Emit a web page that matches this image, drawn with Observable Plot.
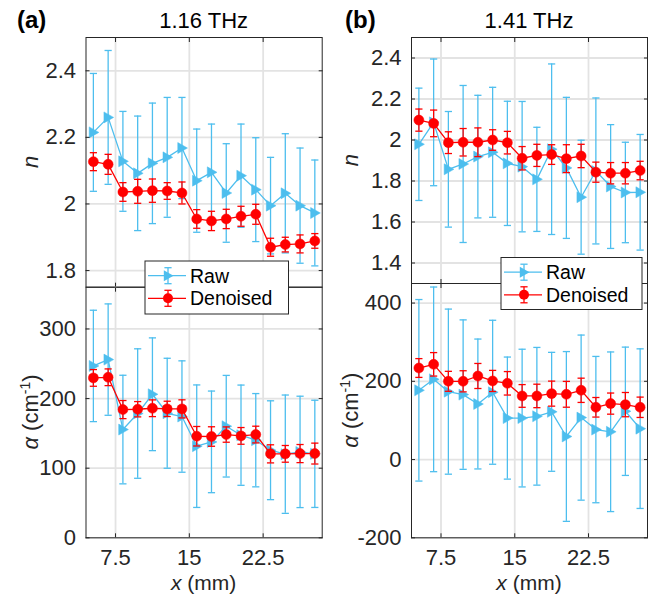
<!DOCTYPE html>
<html><head><meta charset="utf-8">
<script src="https://cdn.jsdelivr.net/npm/d3@7"></script>
<script src="https://cdn.jsdelivr.net/npm/@observablehq/plot@0.6"></script>
<style>
body{margin:0;background:#fff;}
#fig{position:relative;width:652px;height:596px;font-family:"Liberation Sans",Arial,Helvetica,sans-serif;}
#fig svg{position:absolute;left:0;top:0;}
</style></head><body><div id="fig"></div>
<script>
// ---------- data ----------
const xPos = [5.25, 6.75, 8.25, 9.75, 11.25, 12.75, 14.25, 15.75, 17.25, 18.75, 20.25, 21.75, 23.25, 24.75, 26.25, 27.75];
const xTicks = [7.5, 15, 22.5];
const xDomain = [4.5, 28.5];

// (a) 1.16 THz
const nRawA    = [2.215, 2.260, 2.128, 2.092, 2.122, 2.140, 2.168, 2.070, 2.095, 2.033, 2.085, 2.043, 1.995, 2.032, 1.995, 1.973];
const nRawErrA = [0.177, 0.201, 0.150, 0.172, 0.181, 0.180, 0.152, 0.155, 0.145, 0.148, 0.155, 0.156, 0.145, 0.179, 0.173, 0.159];
const nDenA    = [2.127, 2.119, 2.036, 2.038, 2.040, 2.039, 2.033, 1.955, 1.949, 1.955, 1.963, 1.969, 1.870, 1.878, 1.880, 1.889];
const nDenErrA = [0.027, 0.030, 0.028, 0.036, 0.035, 0.025, 0.033, 0.028, 0.029, 0.029, 0.030, 0.030, 0.027, 0.022, 0.027, 0.022];
const aRawA    = [246.9, 256.0, 155.5, 178.5, 206.2, 178.9, 174.2, 131.6, 137.8, 160.3, 147.4, 140.2, 125.8, 120.1, 123.4, 120.6];
const aRawErrA = [80, 80, 78, 93, 81, 79, 80, 88, 73, 73, 72, 67, 71, 85, 80, 77];
const aDenA    = [229.7, 230.6, 184.2, 184.7, 186.1, 185.2, 185.2, 145.9, 145.5, 148.3, 146.4, 148.3, 120.6, 120.6, 121.0, 121.0];
const aDenErrA = [12, 12, 13, 11, 12, 11, 13, 14, 14, 11, 12, 12, 13, 12, 13, 15];

// (b) 1.41 THz
const nRawB    = [1.979, 2.086, 1.857, 1.883, 1.919, 1.940, 1.886, 1.870, 1.808, 1.955, 1.864, 1.721, 1.849, 1.773, 1.744, 1.745];
const nRawErrB = [0.274, 0.309, 0.282, 0.383, 0.299, 0.317, 0.303, 0.318, 0.254, 0.416, 0.344, 0.278, 0.356, 0.302, 0.245, 0.282];
const nDenB    = [2.097, 2.081, 1.987, 1.989, 1.989, 2.000, 1.987, 1.911, 1.925, 1.929, 1.909, 1.922, 1.843, 1.838, 1.838, 1.851];
const nDenErrB = [0.054, 0.065, 0.053, 0.067, 0.070, 0.050, 0.055, 0.057, 0.054, 0.048, 0.068, 0.057, 0.049, 0.052, 0.052, 0.045];
const aRawB    = [177, 205, 173.6, 166, 142, 172, 106, 106, 110.6, 122, 59, 107.2, 76.6, 71, 123.4, 79];
const aRawErrB = [232, 236, 211, 191, 166, 184, 156, 176, 176, 152, 217, 211, 187, 204, 164, 204];
const aDenB    = [234, 243.4, 200, 200, 213.6, 200.9, 194.9, 162.6, 162.6, 168.5, 166.8, 177, 133.6, 143, 140.4, 133.6];
const aDenErrB = [24, 30, 25.5, 27, 32, 27, 30, 29, 30, 32, 33, 31, 25, 27, 31, 26];

const nTicksA = [1.8, 2, 2.2, 2.4];
const aTicksA = [0, 100, 200, 300];
const nTicksB = [1.4, 1.6, 1.8, 2, 2.2, 2.4];
const aTicksB = [-200, 0, 200, 400];
const nDomainA = [1.75, 2.5];
const aDomainA = [0, 360];
const nDomainB = [1.3, 2.5];
const aDomainB = [-200, 450];

const seriesNames = ["Raw", "Denoised"];
const titles = ["1.16 THz", "1.41 THz"];
const panelLetters = ["(a)", "(b)"];

// ---------- style ----------
const W = 652, H = 596;
const FONT = '"Liberation Sans", Arial, Helvetica, sans-serif';
const BLUE = "#4DBEEE", RED = "#FF0000", GRID = "#e3e3e3", AXIS = "#262626";
const fmt = d => String(d);
const blank = () => "";

const capSym = {draw(ctx){ ctx.moveTo(-3.6, 0); ctx.lineTo(3.6, 0); }};
const triRight = {draw(ctx){ ctx.moveTo(5.5, 0); ctx.lineTo(-4.2, -5.5); ctx.lineTo(-4.2, 5.5); ctx.closePath(); }};

function rows(v, e){ return xPos.map((x, i) => ({x, v: v[i], lo: v[i] - e[i], hi: v[i] + e[i]})); }

function series(data, color, sym, r){
  return [
    Plot.ruleX(data, {x: "x", y1: "lo", y2: "hi", stroke: color, strokeWidth: 1.3}),
    Plot.dot(data, {x: "x", y: "lo", symbol: capSym, fill: "none", stroke: color, strokeWidth: 1.3}),
    Plot.dot(data, {x: "x", y: "hi", symbol: capSym, fill: "none", stroke: color, strokeWidth: 1.3}),
    Plot.line(data, {x: "x", y: "v", stroke: color, strokeWidth: 1.3}),
    Plot.dot(data, {x: "x", y: "v", symbol: sym, r, fill: color, stroke: color, strokeWidth: 0.5})
  ];
}

function panel(o){
  const R = rows(o.raw, o.rawErr), D = rows(o.den, o.denErr);
  return Plot.plot({
    width: W, height: H,
    marginLeft: o.l, marginRight: W - o.r, marginTop: o.t, marginBottom: H - o.b,
    x: {domain: xDomain, axis: null},
    y: {domain: o.yDomain, axis: null},
    style: {background: "transparent", fontFamily: FONT, overflow: "visible", color: AXIS},
    marks: [
      Plot.gridX({ticks: xTicks, stroke: GRID, strokeOpacity: 1, strokeWidth: 1.8}),
      Plot.gridY({ticks: o.yTicks, stroke: GRID, strokeOpacity: 1, strokeWidth: 1.8}),
      ...series(R, BLUE, triRight, 5),
      ...series(D, RED, "circle", 5),
      Plot.frame({stroke: AXIS, strokeWidth: 1}),
      Plot.axisY({ticks: o.yTicks, anchor: "left", tickSize: -4, tickPadding: 14, tickFormat: fmt, fontSize: 22, label: null, color: AXIS}),
      Plot.axisY({ticks: o.yTicks, anchor: "right", tickSize: -4, tickFormat: blank, label: null, color: AXIS}),
      Plot.axisX({ticks: xTicks, anchor: "bottom", tickSize: -4, tickPadding: 16, tickFormat: o.showX ? fmt : blank, fontSize: 22, label: null, color: AXIS}),
      Plot.axisX({ticks: xTicks, anchor: "top", tickSize: -4, tickFormat: blank, label: null, color: AXIS})
    ]
  });
}

const fig = document.getElementById("fig");
const L = {aL: 85.5, aR: 321.7, bL: 411, bR: 647, top: 37, midA: 286.7, midB: 283, bot: 537.3};

fig.append(panel({l: L.aL, r: L.aR, t: L.top, b: L.midA, yDomain: nDomainA, yTicks: nTicksA, raw: nRawA, rawErr: nRawErrA, den: nDenA, denErr: nDenErrA, showX: false}));
fig.append(panel({l: L.aL, r: L.aR, t: L.midA, b: L.bot, yDomain: aDomainA, yTicks: aTicksA, raw: aRawA, rawErr: aRawErrA, den: aDenA, denErr: aDenErrA, showX: true}));
fig.append(panel({l: L.bL, r: L.bR, t: L.top, b: L.midB, yDomain: nDomainB, yTicks: nTicksB, raw: nRawB, rawErr: nRawErrB, den: nDenB, denErr: nDenErrB, showX: false}));
fig.append(panel({l: L.bL, r: L.bR, t: L.midB, b: L.bot, yDomain: aDomainB, yTicks: aTicksB, raw: aRawB, rawErr: aRawErrB, den: aDenB, denErr: aDenErrB, showX: true}));

// ---------- overlay: titles, labels, legends ----------
const ov = d3.select(fig).append("svg").attr("width", W).attr("height", H)
  .style("font-family", FONT).style("overflow", "visible");

[[L.aL, L.aR, 17], [L.bL, L.bR, 345]].forEach(([l, r, lx], k) => {
  ov.append("text").attr("x", lx).attr("y", 28).attr("font-size", 24).attr("font-weight", "bold").attr("fill", "#000").text(panelLetters[k]);
  ov.append("text").attr("x", (l + r) / 2).attr("y", 28).attr("text-anchor", "middle").attr("font-size", 22).attr("fill", "#000").text(titles[k]);
  // x label
  const xl = ov.append("text").attr("x", (l + r) / 2).attr("y", 590).attr("text-anchor", "middle").attr("font-size", 21).attr("fill", AXIS);
  xl.append("tspan").attr("font-style", "italic").text("x");
  xl.append("tspan").text(" (mm)");
});

function yLabelN(x, y){
  ov.append("text").attr("transform", `translate(${x},${y}) rotate(-90)`).attr("text-anchor", "middle")
    .attr("font-size", 22).attr("font-style", "italic").attr("fill", AXIS).text("n");
}
function yLabelA(x, y){
  const t = ov.append("text").attr("transform", `translate(${x},${y}) rotate(-90)`).attr("text-anchor", "middle")
    .attr("font-size", 22).attr("fill", AXIS);
  t.append("tspan").attr("font-style", "italic").text("α");
  t.append("tspan").text(" (cm");
  t.append("tspan").attr("font-size", 14).attr("dy", -8).text("-1");
  t.append("tspan").attr("dy", 8).text(")");
}
yLabelN(38, (L.top + L.midA) / 2);
yLabelA(38, (L.midA + L.bot) / 2);
yLabelN(358, (L.top + L.midB) / 2);
yLabelA(358, (L.midB + L.bot) / 2);

function legend(x, y, w, h){
  const g = ov.append("g").attr("transform", `translate(${x},${y})`);
  g.append("rect").attr("width", w).attr("height", h).attr("fill", "#fff").attr("stroke", AXIS).attr("stroke-width", 1);
  [[BLUE, "tri"], [RED, "circ"]].forEach(([c, m], i) => {
    const cy = i === 0 ? 14.7 : 37.3, mx = 23;
    g.append("line").attr("x1", 3).attr("x2", 41).attr("y1", cy).attr("y2", cy).attr("stroke", c).attr("stroke-width", 1.3);
    g.append("line").attr("x1", mx).attr("x2", mx).attr("y1", cy - 8).attr("y2", cy + 8).attr("stroke", c).attr("stroke-width", 1.3);
    g.append("line").attr("x1", mx - 3.6).attr("x2", mx + 3.6).attr("y1", cy - 8).attr("y2", cy - 8).attr("stroke", c).attr("stroke-width", 1.3);
    g.append("line").attr("x1", mx - 3.6).attr("x2", mx + 3.6).attr("y1", cy + 8).attr("y2", cy + 8).attr("stroke", c).attr("stroke-width", 1.3);
    if (m === "tri") g.append("path").attr("d", d3.symbol(triRight)()).attr("transform", `translate(${mx},${cy})`).attr("fill", c);
    else g.append("circle").attr("cx", mx).attr("cy", cy).attr("r", 5).attr("fill", c);
    g.append("text").attr("x", 45).attr("y", cy).attr("dy", "0.36em").attr("font-size", 19.5).attr("fill", "#000").text(seriesNames[i]);
  });
}
legend(145, 261, 143.5, 53);
legend(501, 257.5, 141, 52);
</script>
</body></html>
